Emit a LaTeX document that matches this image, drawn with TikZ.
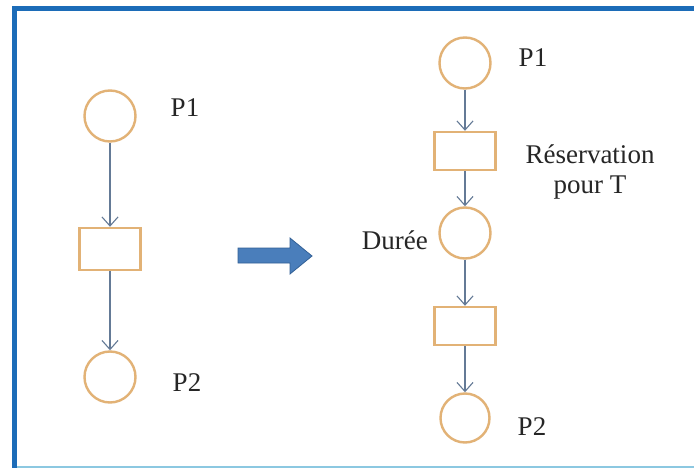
\documentclass[tikz,border=0pt]{standalone}
\usepackage{fontspec}
\setmainfont{Liberation Serif}
\usetikzlibrary{arrows.meta}
\definecolor{framecol}{RGB}{28,108,184}
\definecolor{framelight}{RGB}{140,200,225}
\definecolor{placecol}{RGB}{226,178,118}
\definecolor{arccol}{RGB}{100,122,150}
\definecolor{bigfill}{RGB}{74,126,187}
\definecolor{bigdraw}{RGB}{50,96,150}
\tikzset{
  place/.style={circle, draw=placecol, line width=2.4pt, minimum size=51pt, inner sep=0pt},
  trans/.style={rectangle, draw=placecol, line width=2.4pt, minimum width=61pt, minimum height=38pt, inner sep=0pt},
  arc/.style={draw=arccol, line width=1.1pt, -{Straight Barb[length=9pt,width=16pt,line width=1.1pt]}},
  lbl/.style={font=\fontsize{27}{30}\selectfont, text=black!85, inner sep=0pt, align=center}
}
\begin{document}
\begin{tikzpicture}[x=1pt,y=-1pt]
\useasboundingbox (0,0) rectangle (694,468);
\fill[white] (0,0) rectangle (694,468);
% frame
\draw[framelight, line width=1.5pt] (17,467) -- (694,467);
\draw[framecol, line width=5pt] (14.5,468) -- (14.5,8.5) -- (694,8.5);

% net before
\node[place] (lp1) at (110,116) {};
\node[trans, minimum height=42pt] (lt) at (110,249) {};
\node[place] (lp2) at (110,377) {};
\node[lbl] (llp1) at (185,108) {P1};
\node[lbl] (llp2) at (187,383) {P2};
\draw[arc] (lp1) -- (lt);
\draw[arc] (lt) -- (lp2);

% block arrow
\filldraw[fill=bigfill, draw=bigdraw, line width=0.8pt]
  (238,248) -- (290,248) -- (290,238) -- (312,256) -- (290,274) -- (290,263) -- (238,263) -- cycle;

% net after
\node[place] (rp1) at (465,63) {};
\node[trans] (rt1) at (465,151) {};
\node[place] (rd) at (465,233) {};
\node[trans] (rt2) at (465,326) {};
\node[place, minimum size=49pt] (rp2) at (465,418) {};
\node[lbl] (lrp1) at (533,58) {P1};
\node[lbl] (lres) at (590,172) {Réservation\\pour T};
\node[lbl, anchor=east] (ldur) at (428,240) {Durée};
\node[lbl] (lrp2) at (532,427) {P2};
\draw[arc] (rp1) -- (rt1);
\draw[arc] (rt1) -- (rd);
\draw[arc] (rd) -- (rt2);
\draw[arc] (rt2) -- (rp2);
\end{tikzpicture}
\end{document}
